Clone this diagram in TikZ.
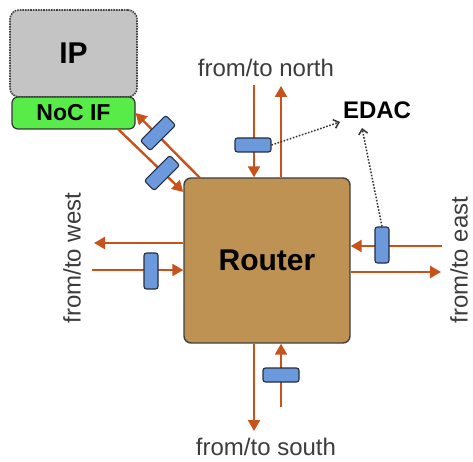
\documentclass[tikz,border=0pt]{standalone}
\usepackage{fontspec}
\setmainfont{Liberation Sans}
\usetikzlibrary{arrows.meta,calc}
\definecolor{wire}{RGB}{200,82,28}
\definecolor{regfill}{RGB}{108,152,220}
\definecolor{regline}{RGB}{35,45,65}
\definecolor{routerfill}{RGB}{190,146,82}
\definecolor{ipfill}{RGB}{196,196,196}
\definecolor{nocfill}{RGB}{88,236,72}
\definecolor{labelgray}{RGB}{60,60,60}
\tikzset{
  link/.style={draw=wire, line width=2.4pt, -{Triangle[width=12pt,length=11pt]}},
  reg/.style={draw=regline, fill=regfill, line width=1.1pt, rounded corners=2.5pt,
    minimum width=36pt, minimum height=14pt, inner sep=0pt},
  probe/.style={draw=black!80, dash pattern=on 1.6pt off 1.6pt, line width=1.5pt,
    -{Straight Barb[length=5pt,width=9pt]}},
  portlabel/.style={font=\fontsize{24}{26}\selectfont, text=labelgray, inner sep=0pt},
}
\begin{document}
\begin{tikzpicture}[x=1pt,y=-1pt]
\useasboundingbox (0,0) rectangle (473,462);

% processing element and its network interface
\node[draw=black!75, densely dotted, line width=1.6pt, fill=ipfill, rounded corners=9pt,
  minimum width=127pt, minimum height=87pt, inner sep=0pt,
  font=\bfseries\fontsize{30}{32}\selectfont] (ip) at (73.5,53.5) {IP};
\node[draw=black!80, line width=1.2pt, fill=nocfill, rounded corners=6pt,
  minimum width=123pt, minimum height=32pt, inner sep=0pt,
  font=\bfseries\fontsize{23}{25}\selectfont] (nocif) at (73.5,113) {NoC IF};

% router
\node[draw=black!75, line width=1.4pt, fill=routerfill, rounded corners=7pt,
  minimum width=166pt, minimum height=165pt, inner sep=0pt,
  font=\bfseries\fontsize{30}{32}\selectfont] (router) at (267,260.5) {Router};

% local port (NoC IF <-> router)
\coordinate (lout) at (118,129);
\coordinate (lin)  at (200,178);
\draw[link] (lout) -- (router.west |- 0,192);
\draw[link] (lin) -- (nocif.east |- 0,113);
\node[reg, rotate=45] (rlin)  at (158,133) {};
\node[reg, rotate=45] (rlout) at (162,173) {};

% north port
\coordinate (nin)  at (254,85);
\coordinate (nout) at (281,86);
\draw[link] (nin) -- (nin |- router.north);
\draw[link] (nout |- router.north) -- (nout);
\node[reg] (rn) at (253,145) {};
\node[portlabel] (ln) at (266,68) {from/to north};

% south port
\coordinate (sout) at (254,431);
\coordinate (sin)  at (281,407);
\draw[link] (sout |- router.south) -- (sout);
\draw[link] (sin) -- (sin |- router.south);
\node[reg] (rs) at (281,375) {};
\node[portlabel] (ls) at (266,447) {from/to south};

% west port
\coordinate (wout) at (94,243);
\coordinate (win)  at (92,270);
\draw[link] (wout -| router.west) -- (wout);
\draw[link] (win) -- (win -| router.west);
\node[reg, rotate=90] (rw) at (151,271) {};
\node[portlabel, rotate=90] (lw) at (72,258) {from/to west};

% east port
\coordinate (ein)  at (442,246);
\coordinate (eout) at (441,272);
\draw[link] (ein) -- (ein -| router.east);
\draw[link] (eout -| router.east) -- (eout);
\node[reg, rotate=90] (re) at (382,245) {};
\node[portlabel, rotate=90] (le) at (459,260) {from/to east};

% error detection and correction
\node[font=\bfseries\fontsize{24}{26}\selectfont, inner sep=0pt] (edac) at (377,110) {EDAC};
\coordinate (edacl) at (340,122);
\coordinate (edacb) at (362,128);
\draw[probe] (rn.east) -- (edacl);
\draw[probe] (re.east) -- (edacb);
\end{tikzpicture}
\end{document}
